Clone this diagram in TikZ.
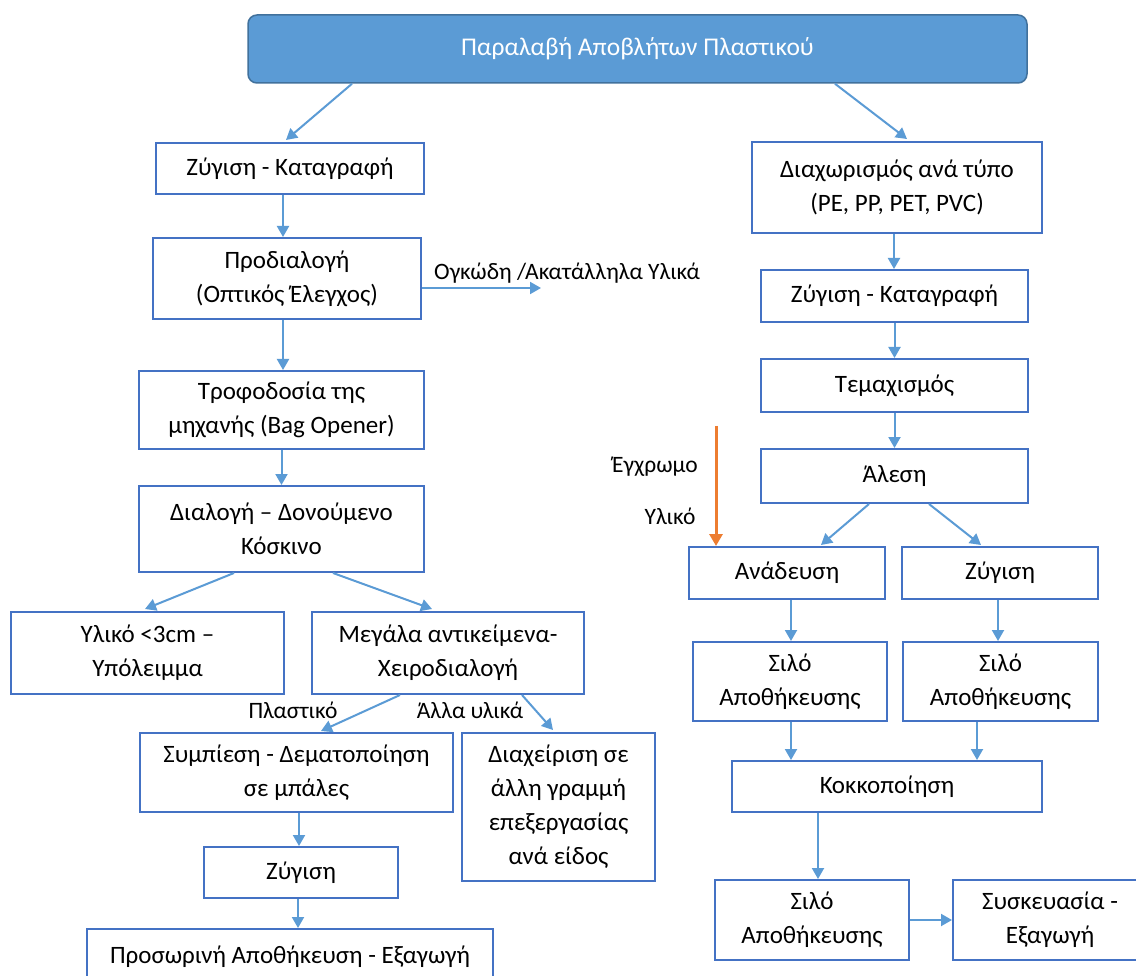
\documentclass[tikz,border=0pt]{standalone}
\usepackage{fontspec}
\setmainfont{Carlito}
\usetikzlibrary{arrows.meta,calc}
\definecolor{boxblue}{HTML}{4472C4}
\definecolor{arrblue}{HTML}{5B9BD5}
\definecolor{topedge}{HTML}{41719C}
\definecolor{orng}{HTML}{ED7D31}
\tikzset{
  procbox/.style={draw=boxblue, line width=2pt, inner sep=0pt, align=center,
    font=\fontsize{25}{34}\selectfont},
  headbox/.style={draw=topedge, fill=arrblue, line width=1.5pt, rounded corners=9pt,
    inner sep=0pt, align=center, text=white, font=\fontsize{25.5}{34}\selectfont},
  lbl/.style={inner sep=0pt, font=\fontsize{23.5}{34}\selectfont},
  flow/.style={draw=arrblue, line width=2pt, -{Triangle[length=11pt,width=12pt]}},
  colorflow/.style={draw=orng, line width=3pt, -{Triangle[length=12pt,width=13pt]}},
}
\newcommand{\bx}[5]{\node[procbox, minimum width=#3pt, minimum height=#4pt] (#1) at (#2) {#5};}
\begin{document}
\begin{tikzpicture}[x=1pt, y=-1pt]
\useasboundingbox (0,0) rectangle (1136,976);
\fill[white] (0,0) rectangle (1136,976);
\clip (0,0) rectangle (1136,976);

% header
\node[headbox, minimum width=779pt, minimum height=68pt] (top) at (637.5,49) {Παραλαβή Αποβλήτων Πλαστικού};

% left branch
\bx{L1}{290,168.5}{268}{51}{Ζύγιση - Καταγραφή}
\bx{L2}{287,278.5}{268}{81}{Προδιαλογή\\(Οπτικός Έλεγχος)}
\bx{L3}{281.5,410}{285}{78}{Τροφοδοσία της\\μηχανής (Bag Opener)}
\bx{L4}{281.5,529}{285}{86}{Διαλογή – Δονούμενο\\Κόσκινο}
\bx{L5}{147.5,653}{273}{82}{Υλικό <3cm –\\Υπόλειμμα}
\bx{L6}{448,653}{272}{82}{Μεγάλα αντικείμενα-\\Χειροδιαλογή}
\bx{L7}{296.5,772.5}{313}{79}{Συμπίεση - Δεματοποίηση\\σε μπάλες}
\bx{L8}{301,872.5}{194}{51}{Ζύγιση}
\bx{L9}{290,957}{406}{56}{Προσωρινή Αποθήκευση - Εξαγωγή}
\bx{L10}{558.5,807}{193}{148}{Διαχείριση σε\\άλλη γραμμή\\επεξεργασίας\\ανά είδος}

\node[lbl, anchor=west] (reject) at (434,273) {Ογκώδη /Ακατάλληλα Υλικά};
\node[lbl] (plast) at (293,710) {Πλαστικό};
\node[lbl] (other) at (470,710) {Άλλα υλικά};
\coordinate (rejectEnd) at (541,288);

% right branch
\bx{R1}{897,187.5}{290}{91}{Διαχωρισμός ανά τύπο\\(PE, PP, PET, PVC)}
\bx{R2}{894.5,296}{267}{52}{Ζύγιση - Καταγραφή}
\bx{R3}{894.5,385.5}{267}{53}{Τεμαχισμός}
\bx{R4}{894.5,476}{267}{54}{Άλεση}
\bx{R5}{787,573}{196}{52}{Ανάδευση}
\bx{R6}{1000,573}{196}{52}{Ζύγιση}
\bx{R7}{790,681.5}{194}{79}{Σιλό\\Αποθήκευσης}
\bx{R8}{1000.5,681.5}{195}{79}{Σιλό\\Αποθήκευσης}
\bx{R9}{887,786.5}{310}{51}{Κοκκοποίηση}
\bx{R10}{812,920}{194}{80}{Σιλό\\Αποθήκευσης}
\bx{R11}{1050,920}{194}{80}{Συσκευασία -\\Εξαγωγή}

\node[lbl] (colA) at (655,467) {Έγχρωμο};
\node[lbl] (colB) at (670,516) {Υλικό};
\coordinate (colTop) at (716,426);

% connectors, left
\draw[flow] ([xshift=-285.5pt]top.south) -- ([xshift=-4pt,yshift=2pt]L1.north);
\draw[flow] ([xshift=-7pt]L1.south) -- ([xshift=-7pt]L1.south |- L2.north);
\draw[flow] ([yshift=-9.5pt]L2.east) -- (rejectEnd);
\draw[flow] ([xshift=-4pt]L2.south) -- ([xshift=-4pt]L2.south |- L3.north);
\draw[flow] (L3.south) -- (L4.north);
\draw[flow] ([xshift=-47.5pt]L4.south) -- ([xshift=-2.5pt,yshift=2pt]L5.north);
\draw[flow] ([xshift=51.5pt]L4.south) -- ([xshift=-16pt,yshift=2pt]L6.north);
\draw[flow] ([xshift=-48pt]L6.south) -- ([xshift=24.5pt,yshift=1pt]L7.north);
\draw[flow] ([xshift=74pt]L6.south) -- ([xshift=-5.5pt,yshift=2pt]L10.north);
\draw[flow] ([xshift=2.5pt]L7.south) -- ([xshift=2.5pt]L7.south |- L8.north);
\draw[flow] ([xshift=-3pt]L8.south) -- ([xshift=-3pt]L8.south |- L9.north);

% connectors, right
\draw[flow] ([xshift=197.5pt]top.south) -- ([xshift=10pt,yshift=2pt]R1.north);
\draw[flow] ([xshift=-3pt]R1.south) -- ([xshift=-3pt]R1.south |- R2.north);
\draw[flow] (R2.south) -- (R3.north);
\draw[flow] (R3.south) -- (R4.north);
\draw[flow] ([xshift=-25.5pt]R4.south) -- ([xshift=34pt,yshift=1pt]R5.north);
\draw[flow] ([xshift=34.5pt]R4.south) -- ([xshift=-19pt,yshift=1pt]R6.north);
\draw[flow] ([xshift=4pt]R5.south) -- ([xshift=4pt]R5.south |- R7.north);
\draw[flow] ([xshift=-2pt]R6.south) -- ([xshift=-2pt]R6.south |- R8.north);
\draw[flow] ([xshift=1pt]R7.south) -- ([xshift=1pt]R7.south |- R9.north);
\draw[flow] ([xshift=-23.5pt]R8.south) -- ([xshift=-23.5pt]R8.south |- R9.north);
\draw[flow] ([xshift=-69pt]R9.south) -- ([xshift=-69pt]R9.south |- R10.north);
\draw[flow] (R10.east) -- (R10.east -| R11.west);
\draw[colorflow] (colTop) -- (colTop |- R5.north);
\end{tikzpicture}
\end{document}
